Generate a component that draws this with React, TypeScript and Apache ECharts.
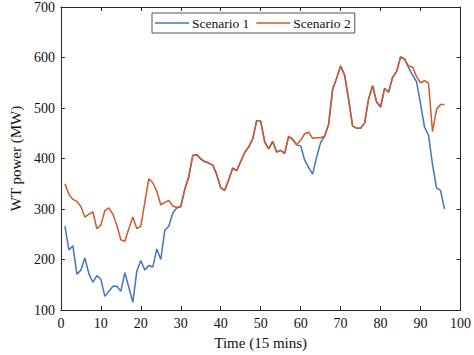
import React, { useEffect, useRef } from "react";
import * as echarts from "echarts";

const timeSteps: number[] = Array.from({ length: 96 }, (_, i) => i + 1);

const scenario1: number[] = [
  266, 219, 227, 171, 179, 203, 172, 155, 168, 161,
  127, 137, 147, 147, 137, 174, 145, 115, 177, 198,
  179, 188, 185, 221, 200, 258, 266, 292, 302, 305,
  339, 364, 406, 408, 399, 394, 391, 387, 368, 342,
  337, 358, 381, 376, 394, 412, 423, 439, 475, 474,
  433, 419, 434, 413, 416, 410, 444, 438, 427, 425,
  397, 382, 369, 403, 432, 444, 468, 537, 559, 583,
  565, 517, 464, 460, 460, 470, 518, 544, 512, 502,
  539, 531, 561, 572, 601, 597, 580, 565, 552, 508,
  462, 446, 388, 342, 337, 300,
];

const scenario2: number[] = [
  350, 329, 319, 315, 305, 284, 290, 294, 261, 268,
  297, 302, 290, 268, 239, 236, 261, 284, 261, 266,
  313, 360, 352, 335, 308, 313, 317, 306, 303, 305,
  339, 364, 406, 408, 399, 394, 391, 387, 368, 342,
  337, 358, 381, 376, 394, 412, 423, 439, 475, 474,
  433, 419, 434, 413, 416, 410, 444, 438, 427, 436,
  449, 452, 440, 441, 441, 444, 468, 537, 559, 583,
  565, 517, 464, 460, 460, 470, 518, 544, 512, 502,
  539, 531, 561, 572, 601, 597, 583, 581, 562, 550,
  554, 549, 453, 497, 507, 507,
];

const seriesNames: string[] = ["Scenario 1", "Scenario 2"];
const FONT = '"Liberation Serif", "Times New Roman", serif';

export default function App() {
  const ref = useRef<HTMLDivElement>(null);
  useEffect(() => {
    if (!ref.current) return;
    const chart = echarts.init(ref.current, undefined, { renderer: "svg" });
    const axisColor = "#262626";
    const common = {
      axisLine: { show: true, onZero: false, lineStyle: { color: axisColor, width: 1 } },
      axisTick: { show: true, inside: true, length: 4, lineStyle: { color: axisColor } },
      splitLine: { show: false },
    };
    chart.setOption({
      animation: false,
      backgroundColor: "#ffffff",
      textStyle: { fontFamily: FONT },
      grid: { left: 43, right: 12, top: 6, bottom: 40, containLabel: false },
      legend: {
        data: seriesNames,
        left: 152,
        top: 13,
        orient: "horizontal",
        icon: "rect",
        itemWidth: 34,
        itemHeight: 1.5,
        itemGap: 7,
        borderColor: "#555555",
        borderWidth: 1,
        padding: [3, 4, 3, 3],
        backgroundColor: "#ffffff",
        textStyle: { fontFamily: FONT, fontSize: 13.5, color: "#111111", padding: [0, 0, 0, -2] },
      },
      xAxis: [
        {
          type: "value",
          min: 0,
          max: 100,
          interval: 10,
          name: "Time (15 mins)",
          nameLocation: "middle",
          nameGap: 25,
          nameTextStyle: { fontFamily: FONT, fontSize: 15, color: "#111111" },
          axisLabel: { fontFamily: FONT, fontSize: 14, color: "#111111", margin: 6 },
          ...common,
        },
        {
          type: "value",
          position: "top",
          min: 0,
          max: 100,
          interval: 10,
          axisLabel: { show: false },
          ...common,
        },
      ],
      yAxis: [
        {
          type: "value",
          min: 100,
          max: 700,
          interval: 100,
          name: "WT power (MW)",
          nameLocation: "middle",
          nameGap: 31,
          nameTextStyle: { fontFamily: FONT, fontSize: 15, color: "#111111" },
          axisLabel: { fontFamily: FONT, fontSize: 14, color: "#111111", margin: 6 },
          ...common,
        },
        {
          type: "value",
          position: "right",
          min: 100,
          max: 700,
          interval: 100,
          axisLabel: { show: false },
          ...common,
        },
      ],
      series: [
        {
          name: seriesNames[0],
          type: "line",
          data: timeSteps.map((t, i) => [t, scenario1[i]]),
          showSymbol: false,
          symbol: "none",
          lineStyle: { color: "#4472C4", width: 1.5 },
          itemStyle: { color: "#4472C4" },
          z: 2,
        },
        {
          name: seriesNames[1],
          type: "line",
          data: timeSteps.map((t, i) => [t, scenario2[i]]),
          showSymbol: false,
          symbol: "none",
          lineStyle: { color: "#D2572A", width: 1.5 },
          itemStyle: { color: "#D2572A" },
          z: 3,
        },
      ],
    });
    return () => chart.dispose();
  }, []);
  return (
    <div
      ref={ref}
      style={{ position: "fixed", left: 0, top: 0, width: 474, height: 355, background: "#fff" }}
    />
  );
}
